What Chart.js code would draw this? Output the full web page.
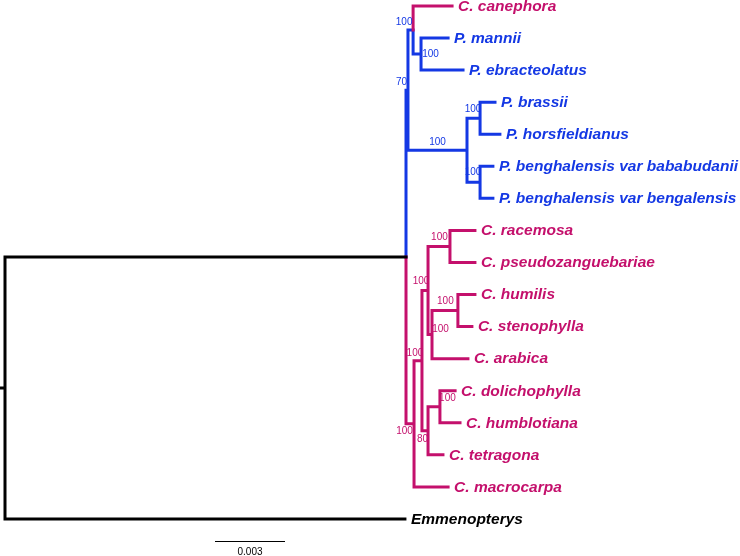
<!DOCTYPE html>
<html><head><meta charset="utf-8">
<script src="https://cdn.jsdelivr.net/npm/chart.js@4"></script>
<style>html,body{margin:0;padding:0;background:#fff}#wrap{width:740px;height:556px;position:relative}</style>
</head><body><div id="wrap"><canvas id="c"></canvas></div>
<script>
// ---------- DATA ----------
const taxa = [
  'C. canephora','P. mannii','P. ebracteolatus','P. brassii','P. horsfieldianus',
  'P. benghalensis var bababudanii','P. benghalensis var bengalensis',
  'C. racemosa','C. pseudozanguebariae','C. humilis','C. stenophylla','C. arabica',
  'C. dolichophylla','C. humblotiana','C. tetragona','C. macrocarpa','Emmenopterys'
];
const taxonGroup = [
  'Coffea','Psychotria','Psychotria','Psychotria','Psychotria','Psychotria','Psychotria',
  'Coffea','Coffea','Coffea','Coffea','Coffea','Coffea','Coffea','Coffea','Coffea','outgroup'
];
// distance from root (substitutions/site)
const tipDepth = [
  0.01916,0.01899,0.01963,0.02100,0.02121,0.02091,0.02091,
  0.02014,0.02014,0.02014,0.02001,0.01984,0.01929,0.01950,0.01877,0.01899,0.01714
];
const nodeIds = ['n1','nA','n2','n3','nB','n70','nG','nI','nH','nE','nJ','nF','nD','nC','nIn','root'];
const nodeChildren = [
  ['P. mannii','P. ebracteolatus'],
  ['C. canephora','n1'],
  ['P. brassii','P. horsfieldianus'],
  ['P. benghalensis var bababudanii','P. benghalensis var bengalensis'],
  ['n2','n3'],
  ['nA','nB'],
  ['C. racemosa','C. pseudozanguebariae'],
  ['C. humilis','C. stenophylla'],
  ['nI','C. arabica'],
  ['nG','nH'],
  ['C. dolichophylla','C. humblotiana'],
  ['nJ','C. tetragona'],
  ['nE','nF'],
  ['nD','C. macrocarpa'],
  ['n70','nC'],
  ['nIn','Emmenopterys']
];
const nodeDepth = [0.01783,0.01749,0.02036,0.02036,0.01980,0.01727,
  0.01907,0.01941,0.01830,0.01813,0.01864,0.01813,0.01787,0.01753,0.017186,0];
const nodeSupport = [100,100,100,100,100,70,100,100,100,100,100,80,100,100,null,null];
const nodeGroup = ['Psychotria','Psychotria','Psychotria','Psychotria','Psychotria','Psychotria',
  'Coffea','Coffea','Coffea','Coffea','Coffea','Coffea','Coffea','Coffea','outgroup','outgroup'];
const scaleBarValue = 0.003;

// ---------- STYLE ----------
const groupColor = {Psychotria:'#1438e4', Coffea:'#c4106c', outgroup:'#000000'};
// support label offsets (px) from node
const supportOffset = {
  n1:[9.5,0], nA:[-9,-7.5], n2:[-7,-9], n3:[-7,-10], nB:[-29.5,-8], n70:[-6.5,-8],
  nG:[-10.5,-9], nI:[-12.5,-9], nH:[8.5,-5], nE:[-7,-9], nJ:[7.5,-9], nF:[-5.5,8],
  nD:[-7,-7], nC:[-9.5,7]
};
const PX_PER_UNIT = 70/0.003, PX_PER_TIP = 32.06;
const xMin = -5/PX_PER_UNIT, xMax = xMin + 740/PX_PER_UNIT;
const yMin = -6/PX_PER_TIP, yMax = yMin + 556/PX_PER_TIP;
const scaleBarPos = {x:0.009, y:16.69};

// ---------- LAYOUT ----------
const info = {};
taxa.forEach((t,i)=>{ info[t] = {depth: tipDepth[i], y: i, group: taxonGroup[i], tip:true}; });
nodeIds.forEach((id,i)=>{ info[id] = {depth: nodeDepth[i], children: nodeChildren[i], support: nodeSupport[i], group: nodeGroup[i]}; });
function yOf(id){
  const n = info[id];
  if (n.y !== undefined) return n.y;
  const ys = n.children.map(yOf);
  n.y = (ys[0] + ys[ys.length-1]) / 2;
  return n.y;
}
nodeIds.forEach(yOf);

const segs = {Psychotria:[], Coffea:[], outgroup:[]};
nodeIds.forEach(id=>{
  const p = info[id];
  p.children.forEach(cid=>{
    const c = info[cid];
    segs[c.group].push({x:p.depth, y:p.y},{x:p.depth, y:c.y},{x:c.depth, y:c.y},{x:null, y:null});
  });
});
// root stem
const rootNode = info['root'];
segs.outgroup.push({x:xMin, y:rootNode.y},{x:0, y:rootNode.y},{x:null,y:null});

const datasets = ['outgroup','Coffea','Psychotria'].map(g=>({
  label:g, data:segs[g], showLine:true, spanGaps:false, pointRadius:0,
  borderColor:groupColor[g], borderWidth:3, borderJoinStyle:'miter', borderCapStyle:'square',
  tension:0
}));

const labelPlugin = {
  id:'treeLabels',
  afterDatasetsDraw(chart){
    const ctx = chart.ctx, xs = chart.scales.x, ys = chart.scales.y;
    ctx.save();
    ctx.textBaseline = 'middle';
    ctx.textAlign = 'left';
    ctx.font = 'bold italic 15.5px "Liberation Sans", Arial, sans-serif';
    taxa.forEach(t=>{
      const n = info[t];
      ctx.fillStyle = groupColor[n.group];
      ctx.fillText(t, xs.getPixelForValue(n.depth)+6, ys.getPixelForValue(n.y)+0.5);
    });
    ctx.font = '10px "Liberation Sans", Arial, sans-serif';
    ctx.textAlign = 'center';
    nodeIds.forEach(id=>{
      const n = info[id];
      if (n.support == null) return;
      const off = supportOffset[id] || [0,-8];
      ctx.fillStyle = groupColor[n.group];
      ctx.fillText(String(n.support), xs.getPixelForValue(n.depth)+off[0], ys.getPixelForValue(n.y)+off[1]);
    });
    // scale bar
    const x0 = xs.getPixelForValue(scaleBarPos.x), x1 = xs.getPixelForValue(scaleBarPos.x+scaleBarValue);
    const y0 = Math.round(ys.getPixelForValue(scaleBarPos.y))+0.5;
    ctx.strokeStyle = '#000'; ctx.lineWidth = 1;
    ctx.beginPath(); ctx.moveTo(x0,y0); ctx.lineTo(x1,y0); ctx.stroke();
    ctx.fillStyle = '#000';
    ctx.font = '10px "Liberation Sans", Arial, sans-serif';
    ctx.fillText(String(scaleBarValue), (x0+x1)/2, y0+11);
    ctx.restore();
  }
};

new Chart(document.getElementById('c'), {
  type:'scatter',
  data:{datasets},
  options:{
    responsive:true, maintainAspectRatio:false, animation:false,
    layout:{padding:0},
    plugins:{legend:{display:false}, tooltip:{enabled:false}},
    scales:{
      x:{type:'linear', display:false, min:xMin, max:xMax},
      y:{type:'linear', display:false, reverse:true, min:yMin, max:yMax}
    }
  },
  plugins:[labelPlugin]
});
</script></body></html>
